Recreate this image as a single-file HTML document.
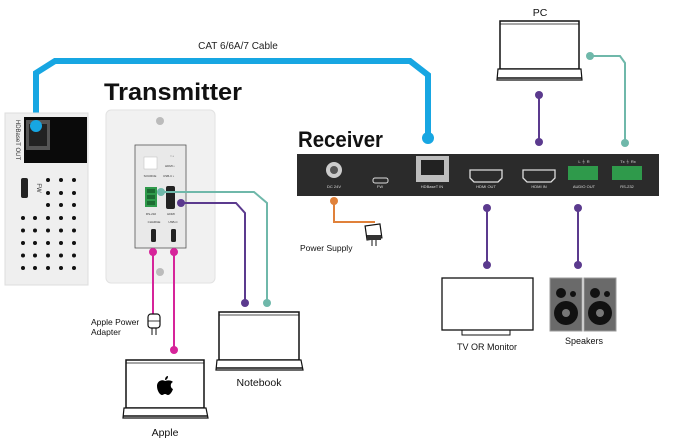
<!DOCTYPE html>
<html><head><meta charset="utf-8"><style>
html,body{margin:0;padding:0;background:#fff}
svg{display:block}
text{font-family:"Liberation Sans",sans-serif}
</style></head><body>
<svg width="674" height="445" viewBox="0 0 674 445" xmlns="http://www.w3.org/2000/svg">
<text x="238" y="49" font-size="10" text-anchor="middle" fill="#222">CAT 6/6A/7 Cable</text>
<polyline points="36,124 36,73 55,61 410,61 428,75 428,138" fill="none" stroke="#17a6e2" stroke-width="6" stroke-linejoin="miter"/>

<rect x="5" y="113" width="83" height="172" fill="#efefef" stroke="#ddd"/>
<rect x="24" y="117" width="63" height="46" fill="#0a0a0a"/>
<rect x="26" y="120" width="24" height="30" fill="#555"/>
<rect x="29" y="124" width="18" height="22" fill="#222"/>
<circle cx="36" cy="126" r="6" fill="#17a6e2"/>
<text x="16" y="140" font-size="6" fill="#333" transform="rotate(90 16 140)" text-anchor="middle">HDBaseT OUT</text>
<rect x="21" y="178" width="7" height="20" rx="2" fill="#222"/>
<text x="37" y="188" font-size="6" fill="#333" transform="rotate(90 37 188)" text-anchor="middle">FW</text>
<g fill="#111">
<circle cx="48" cy="180" r="2"/><circle cx="61" cy="180" r="2"/><circle cx="74" cy="180" r="2"/>
<circle cx="48" cy="193" r="2"/><circle cx="61" cy="193" r="2"/><circle cx="74" cy="193" r="2"/>
<circle cx="48" cy="205" r="2"/><circle cx="61" cy="205" r="2"/><circle cx="74" cy="205" r="2"/>
<g id="r"><circle cx="23" cy="218" r="2"/><circle cx="35" cy="218" r="2"/><circle cx="48" cy="218" r="2"/><circle cx="61" cy="218" r="2"/><circle cx="74" cy="218" r="2"/></g>
<use href="#r" y="12.5"/><use href="#r" y="25"/><use href="#r" y="37.5"/><use href="#r" y="50"/>
</g>

<text x="104" y="100" font-size="24" font-weight="bold" fill="#111" textLength="138" lengthAdjust="spacingAndGlyphs">Transmitter</text>
<rect x="106" y="110" width="109" height="173" rx="5" fill="#f1f1f1" stroke="#e2e2e2"/>
<circle cx="160" cy="121" r="4" fill="#bbb"/>
<circle cx="160" cy="272" r="4" fill="#bbb"/>
<rect x="135" y="145" width="51" height="103" fill="#e9e9e9" stroke="#555" stroke-width="0.8"/>
<rect x="144" y="157" width="13" height="12" fill="#fff" stroke="#bbb" stroke-width="0.5"/>
<text x="150" y="177" font-size="3" text-anchor="middle" fill="#333">SOURCE</text>
<text x="170" y="157" font-size="3" fill="#333">○ •</text>
<text x="165" y="167" font-size="3" fill="#333">HDMI •</text>
<text x="163" y="177" font-size="3" fill="#333">USB-C •</text>
<rect x="145" y="187" width="12" height="20" fill="#2f9a4b"/>
<rect x="147" y="189" width="8" height="4" fill="#1c6b32"/>
<rect x="147" y="195" width="8" height="4" fill="#1c6b32"/>
<rect x="147" y="201" width="8" height="4" fill="#1c6b32"/>
<text x="151" y="215" font-size="3" text-anchor="middle" fill="#333">RS-232</text>
<rect x="166" y="186" width="9" height="23" rx="2" fill="#222"/>
<text x="171" y="215" font-size="3" text-anchor="middle" fill="#333">HDMI</text>
<text x="154" y="223" font-size="3" text-anchor="middle" fill="#333">CHARGE</text>
<text x="173" y="223" font-size="3" text-anchor="middle" fill="#333">USB-C</text>
<rect x="151" y="229" width="5" height="13" rx="1.5" fill="#222"/>
<rect x="171" y="229" width="5" height="13" rx="1.5" fill="#222"/>

<polyline points="161,192 254,192 267,203 267,303" fill="none" stroke="#6fb8aa" stroke-width="2"/>
<circle cx="161" cy="192" r="4" fill="#6fb8aa"/><circle cx="267" cy="303" r="4" fill="#6fb8aa"/>
<polyline points="181,203 236,203 245,213 245,303" fill="none" stroke="#5b3a8e" stroke-width="2"/>
<circle cx="181" cy="203" r="4" fill="#5b3a8e"/><circle cx="245" cy="303" r="4" fill="#5b3a8e"/>
<line x1="153" y1="252" x2="153" y2="315" stroke="#d6249a" stroke-width="2"/>
<circle cx="153" cy="252" r="4" fill="#d6249a"/>
<line x1="174" y1="252" x2="174" y2="350" stroke="#d6249a" stroke-width="2"/>
<circle cx="174" cy="252" r="4" fill="#d6249a"/><circle cx="174" cy="350" r="4" fill="#d6249a"/>

<rect x="148" y="314" width="12" height="14" rx="3" fill="#fff" stroke="#111" stroke-width="1.2"/>
<line x1="148" y1="321" x2="160" y2="321" stroke="#111" stroke-width="0.8"/>
<line x1="152" y1="328" x2="152" y2="335" stroke="#111"/><line x1="156" y1="328" x2="156" y2="335" stroke="#111"/>
<text x="91" y="325" font-size="8.5" fill="#111">Apple Power</text>
<text x="91" y="335" font-size="8.5" fill="#111">Adapter</text>

<rect x="126" y="360" width="78" height="48" fill="#fff" stroke="#111" stroke-width="1.5"/>
<line x1="126" y1="363" x2="204" y2="363" stroke="#111" stroke-width="0.8"/>
<path d="M124,408 L206,408 L208,418 L123,418 Z" fill="#fff" stroke="#111" stroke-width="1.2"/>
<line x1="123" y1="416" x2="208" y2="416" stroke="#111" stroke-width="1.5"/>
<path d="M165,381 c-3,-2 -8,0 -8,5 c0,5 3,9 5,9 c1,0 2,-1 3,-1 c1,0 2,1 3,1 c2,0 4,-3 5,-6 c-3,-1 -3,-6 0,-7 c-2,-2 -5,-2 -8,-1 z M165,380 c0,-2 1,-4 3,-4 c0,2 -1,4 -3,4z" fill="#000"/>
<text x="165" y="436" font-size="10.5" text-anchor="middle" fill="#111">Apple</text>

<rect x="219" y="312" width="80" height="48" fill="#fff" stroke="#111" stroke-width="1.5"/>
<line x1="219" y1="315" x2="299" y2="315" stroke="#111" stroke-width="0.8"/>
<path d="M217,360 L301,360 L303,370 L216,370 Z" fill="#fff" stroke="#111" stroke-width="1.2"/>
<line x1="216" y1="368" x2="303" y2="368" stroke="#111" stroke-width="1.5"/>
<text x="259" y="386" font-size="10.5" text-anchor="middle" fill="#111">Notebook</text>

<text x="298" y="147" font-size="22" font-weight="bold" fill="#111" textLength="85" lengthAdjust="spacingAndGlyphs">Receiver</text>
<circle cx="428" cy="138" r="6" fill="#17a6e2"/>
<rect x="297" y="154" width="362" height="42" fill="#2b2b2b"/>
<circle cx="334" cy="170" r="8" fill="#ccc"/><circle cx="334" cy="170" r="4" fill="#555"/>
<text x="334" y="188" font-size="4" fill="#ddd" text-anchor="middle">DC 24V</text>
<rect x="373" y="178" width="15" height="5" rx="2" fill="none" stroke="#ddd" stroke-width="1"/>
<text x="380" y="188" font-size="4" fill="#ddd" text-anchor="middle">FW</text>
<rect x="416" y="156" width="33" height="26" fill="#bdbdbd"/>
<rect x="421" y="160" width="23" height="15" fill="#222"/>
<text x="432" y="188" font-size="4" fill="#ddd" text-anchor="middle">HDBaseT IN</text>
<path d="M470,170 L502,170 L502,178 L498,182 L474,182 L470,178 Z" fill="none" stroke="#ddd" stroke-width="1.3"/>
<text x="486" y="188" font-size="4" fill="#ddd" text-anchor="middle">HDMI OUT</text>
<path d="M523,170 L555,170 L555,178 L551,182 L527,182 L523,178 Z" fill="none" stroke="#ddd" stroke-width="1.3"/>
<text x="539" y="188" font-size="4" fill="#ddd" text-anchor="middle">HDMI IN</text>
<text x="584" y="163" font-size="4" fill="#ddd" text-anchor="middle">L  ⏚  R</text>
<rect x="568" y="166" width="30" height="14" fill="#2f9a4b"/>
<text x="584" y="188" font-size="4" fill="#ddd" text-anchor="middle">AUDIO OUT</text>
<text x="628" y="163" font-size="4" fill="#ddd" text-anchor="middle">Tx ⏚ Rx</text>
<rect x="612" y="166" width="30" height="14" fill="#2f9a4b"/>
<text x="627" y="188" font-size="4" fill="#ddd" text-anchor="middle">RS-232</text>

<text x="540" y="16" font-size="10.5" text-anchor="middle" fill="#111">PC</text>
<rect x="500" y="21" width="79" height="48" fill="#fff" stroke="#111" stroke-width="1.5"/>
<line x1="500" y1="24" x2="579" y2="24" stroke="#111" stroke-width="0.8"/>
<path d="M498,69 L581,69 L582,80 L497,80 Z" fill="#fff" stroke="#111" stroke-width="1.2"/>
<line x1="497" y1="78" x2="582" y2="78" stroke="#111" stroke-width="1.5"/>
<line x1="539" y1="95" x2="539" y2="142" stroke="#5b3a8e" stroke-width="2"/>
<circle cx="539" cy="95" r="4" fill="#5b3a8e"/><circle cx="539" cy="142" r="4" fill="#5b3a8e"/>
<polyline points="590,56 620,56 625,63 625,143" fill="none" stroke="#6fb8aa" stroke-width="2"/>
<circle cx="590" cy="56" r="4" fill="#6fb8aa"/><circle cx="625" cy="143" r="4" fill="#6fb8aa"/>

<polyline points="334,201 334,222 375,222" fill="none" stroke="#e0813a" stroke-width="2"/>
<circle cx="334" cy="201" r="4" fill="#e0813a"/>
<rect x="366" y="225" width="15" height="14" fill="#fff" stroke="#111" stroke-width="1.2" transform="rotate(-8 373 232)"/>
<rect x="367" y="235" width="14" height="5" fill="#333"/>
<line x1="372" y1="240" x2="372" y2="246" stroke="#111"/><line x1="376" y1="240" x2="376" y2="246" stroke="#111"/>
<text x="300" y="251" font-size="8.5" fill="#111">Power Supply</text>

<line x1="487" y1="208" x2="487" y2="265" stroke="#5b3a8e" stroke-width="2"/>
<circle cx="487" cy="208" r="4" fill="#5b3a8e"/><circle cx="487" cy="265" r="4" fill="#5b3a8e"/>
<rect x="442" y="278" width="91" height="52" fill="#fff" stroke="#111" stroke-width="1.3"/>
<path d="M462,330 L462,335 L510,335 L510,330" fill="none" stroke="#111" stroke-width="1"/>
<text x="487" y="350" font-size="9" text-anchor="middle" fill="#111">TV OR Monitor</text>

<line x1="578" y1="208" x2="578" y2="265" stroke="#5b3a8e" stroke-width="2"/>
<circle cx="578" cy="208" r="4" fill="#5b3a8e"/><circle cx="578" cy="265" r="4" fill="#5b3a8e"/>
<rect x="550" y="278" width="32" height="53" fill="#6a6a6a" stroke="#999"/>
<rect x="584" y="278" width="32" height="53" fill="#6a6a6a" stroke="#999"/>
<g fill="#111">
<circle cx="561" cy="293" r="5"/><circle cx="573" cy="294" r="3"/><circle cx="566" cy="313" r="12"/>
<circle cx="595" cy="293" r="5"/><circle cx="607" cy="294" r="3"/><circle cx="600" cy="313" r="12"/>
</g>
<circle cx="566" cy="313" r="4" fill="#777"/><circle cx="600" cy="313" r="4" fill="#777"/>
<text x="584" y="344" font-size="9" text-anchor="middle" fill="#111">Speakers</text>
</svg>
</body></html>
